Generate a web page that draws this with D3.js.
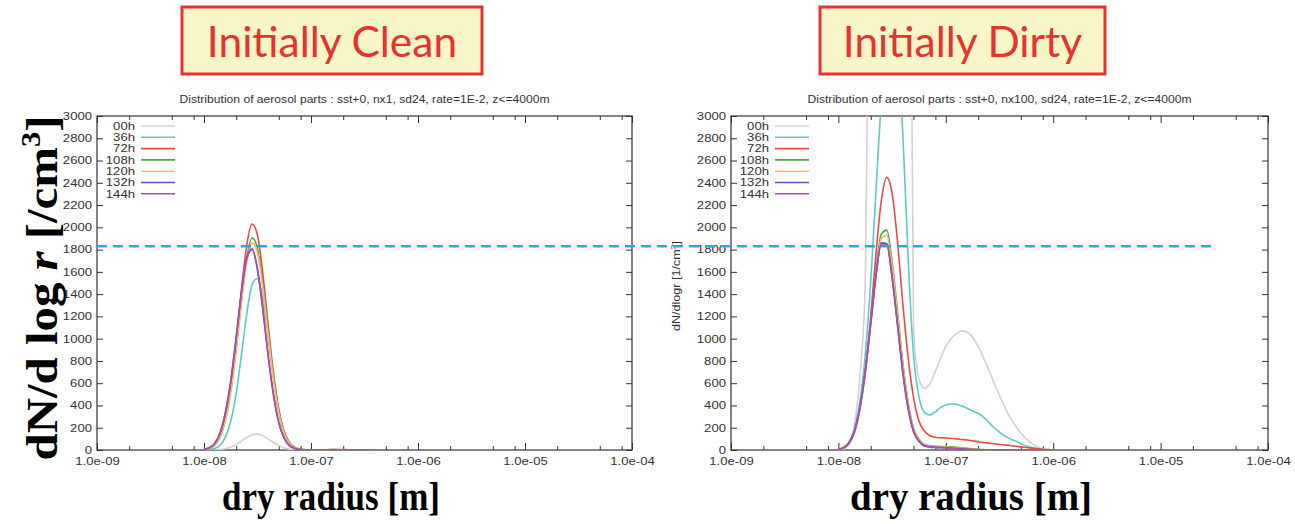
<!DOCTYPE html>
<html>
<head>
<meta charset="utf-8">
<script src="https://cdn.jsdelivr.net/npm/d3@7"></script>
<style>
  body { margin: 0; background: #fff; }
  svg { display: block; }
</style>
</head>
<body>
<svg id="chart" width="1295" height="524"></svg>
<script>
// ---- data ----
const seriesNames = ['00h', '36h', '72h', '108h', '120h', '132h', '144h'];

const yTicks = [0, 200, 400, 600, 800, 1000, 1200, 1400, 1600, 1800, 2000, 2200, 2400, 2600, 2800, 3000];
const xTicks = [1e-9, 1e-8, 1e-7, 1e-6, 1e-5, 1e-4];
const xTickLabels = ['1.0e-09', '1.0e-08', '1.0e-07', '1.0e-06', '1.0e-05', '1.0e-04'];
const minorMultipliers = [2, 5, 8];

const refLevel = 1830; // dashed blue line

// initially clean (nx1)
const cleanRadius = [1.00e-8, 1.12e-8, 1.26e-8, 1.41e-8, 1.58e-8, 1.78e-8, 2.00e-8, 2.24e-8, 2.51e-8,
  2.82e-8, 3.16e-8, 3.55e-8, 3.98e-8, 4.47e-8, 5.01e-8, 5.62e-8, 6.31e-8, 7.08e-8, 7.94e-8, 8.91e-8,
  1.00e-7, 1.26e-7, 1.58e-7, 2.00e-7, 2.51e-7, 3.16e-7, 3.98e-7];
const clean00 = [0, 1, 2, 5, 12, 26, 49, 80, 113, 136, 143, 129, 100, 67, 39, 19, 8, 3, 1, 0, 0, 0, 0, 0, 0, 0, 0];
const clean36 = [1, 4, 13, 42, 113, 261, 511, 857, 1222, 1487, 1540, 1359, 1022, 655, 358, 166, 66, 22, 6, 2, 1, 1, 2, 2, 1, 0, 0];
const clean72 = [4, 15, 46, 122, 283, 565, 971, 1440, 1840, 2030, 1930, 1582, 1119, 683, 359, 163, 64, 22, 6, 2, 1, 2, 3, 3, 2, 1, 0];
const clean108 = [4, 14, 43, 114, 265, 530, 911, 1351, 1726, 1904, 1810, 1484, 1050, 641, 337, 153, 60, 21, 6, 2, 1, 2, 3, 2, 1, 0, 0];
const clean120 = [4, 14, 42, 112, 259, 518, 889, 1319, 1685, 1860, 1768, 1449, 1025, 626, 329, 149, 59, 20, 5, 2, 1, 1, 2, 2, 1, 0, 0];
const clean132 = [6, 20, 59, 150, 330, 622, 1013, 1424, 1727, 1808, 1627, 1265, 849, 491, 245, 106, 39, 13, 3, 1, 1, 1, 1, 0, 0, 0, 0];
const clean144 = [6, 20, 59, 149, 328, 619, 1008, 1417, 1718, 1798, 1618, 1258, 844, 488, 243, 105, 39, 13, 3, 1, 1, 2, 1, 0, 0, 0, 0];

// initially dirty (nx100)
const dirtyRadius = [1.00e-8, 1.12e-8, 1.26e-8, 1.41e-8, 1.58e-8, 1.78e-8, 2.00e-8, 2.24e-8, 2.51e-8,
  2.82e-8, 3.16e-8, 3.55e-8, 3.98e-8, 4.47e-8, 5.01e-8, 5.62e-8, 6.31e-8, 7.08e-8, 7.94e-8, 8.91e-8,
  1.00e-7, 1.12e-7, 1.26e-7, 1.41e-7, 1.58e-7, 1.78e-7, 2.00e-7, 2.24e-7, 2.51e-7, 2.82e-7,
  3.16e-7, 3.55e-7, 3.98e-7, 4.47e-7, 5.01e-7, 5.62e-7, 6.31e-7, 7.08e-7, 7.94e-7, 8.91e-7, 1.00e-6];
const dirty00 = [0, 10, 60, 220, 650, 1500, 6000, 12000, 15000, 16000, 15000, 13000, 11000, 8000, 1100, 640, 555, 590,
  700, 820, 930, 1000, 1045, 1070, 1060, 1010, 930, 830, 720, 600, 490, 385, 290, 215, 150, 100, 60, 30, 10, 3, 0];
const dirty36 = [7, 24, 72, 188, 429, 860, 1513, 2332, 3152, 3740, 3895, 3550, 2838, 1700, 850, 480, 340, 315,
  340, 380, 405, 413, 410, 395, 375, 350, 330, 295, 250, 200, 160, 125, 100, 80, 55, 35, 22, 12, 5, 1, 0];
const dirty72 = [5, 19, 59, 157, 358, 707, 1203, 1768, 2239, 2449, 2307, 1875, 1315, 820, 470, 260, 170, 130,
  115, 110, 108, 105, 100, 95, 90, 82, 75, 68, 62, 56, 50, 45, 40, 33, 28, 22, 17, 12, 7, 3, 0];
const dirty108 = [5, 19, 61, 161, 365, 703, 1154, 1615, 1940, 1975, 1695, 1250, 786, 421, 193, 100, 50, 38,
  34, 32, 30, 28, 25, 20, 15, 10, 6, 3, 1, 0, 0, 0, 0, 0, 0, 0, 0, 0, 0, 0, 0];
const dirty120 = [5, 19, 59, 157, 356, 685, 1125, 1575, 1900, 1928, 1653, 1219, 766, 410, 188, 95, 46, 34,
  30, 28, 26, 23, 20, 16, 12, 8, 5, 2, 1, 0, 0, 0, 0, 0, 0, 0, 0, 0, 0, 0, 0];
const dirty132 = [6, 22, 66, 170, 375, 710, 1140, 1570, 1860, 1855, 1560, 1130, 700, 370, 168, 80, 38, 28,
  25, 22, 20, 17, 14, 10, 7, 4, 2, 1, 0, 0, 0, 0, 0, 0, 0, 0, 0, 0, 0, 0, 0];
const dirty144 = [6, 22, 66, 170, 374, 706, 1134, 1562, 1850, 1843, 1548, 1120, 692, 364, 165, 78, 36, 26,
  23, 21, 19, 16, 13, 9, 6, 4, 2, 1, 0, 0, 0, 0, 0, 0, 0, 0, 0, 0, 0, 0, 0];

const lineColors = ['#d2d2d2', '#5ccaca', '#ef4848', '#48ad3e', '#f7bd6c', '#5454c4', '#b04ab0'];

const panels = [
  {
    id: 'clean', left: 97, right: 632,
    heading: 'Initially Clean', box: [182, 7, 300, 67],
    title: 'Distribution of aerosol parts : sst+0, nx1, sd24, rate=1E-2, z<=4000m', titleLen: 370,
    radius: cleanRadius,
    values: [clean00, clean36, clean72, clean108, clean120, clean132, clean144]
  },
  {
    id: 'dirty', left: 731, right: 1268,
    heading: 'Initially Dirty', box: [820, 7, 285, 67],
    title: 'Distribution of aerosol parts : sst+0, nx100, sd24, rate=1E-2, z<=4000m', titleLen: 384,
    radius: dirtyRadius,
    values: [dirty00, dirty36, dirty72, dirty108, dirty120, dirty132, dirty144]
  }
];

const plotTop = 116, plotBottom = 450;
const stretch = 'scale(1.25,1)';
const gnuFont = '"Liberation Sans", Arial, sans-serif';
const svg = d3.select('#chart');

svg.append('rect').attr('width', 1295).attr('height', 524).attr('fill', '#fff');

function drawPanel(p) {
  const x = d3.scaleLog().domain([1e-9, 1e-4]).range([p.left, p.right]);
  const y = d3.scaleLinear().domain([0, 3000]).range([plotBottom, plotTop]);
  const g = svg.append('g').attr('class', 'panel-' + p.id);

  // heading box
  g.append('rect')
    .attr('x', p.box[0]).attr('y', p.box[1])
    .attr('width', p.box[2]).attr('height', p.box[3])
    .attr('fill', '#f8f6c9').attr('stroke', '#e6332e').attr('stroke-width', 3);
  g.append('text')
    .attr('x', p.box[0] + p.box[2] / 2).attr('y', 57)
    .attr('text-anchor', 'middle')
    .attr('font-family', 'Lato, "Open Sans", sans-serif')
    .attr('font-size', 42.5).attr('fill', '#e6332e')
    .text(p.heading);

  // small gnuplot title
  g.append('text')
    .attr('x', (p.left + p.right) / 2 - p.titleLen / 2).attr('y', 103)
    .attr('font-family', gnuFont)
    .attr('font-size', 11).attr('fill', '#333')
    .attr('textLength', p.titleLen).attr('lengthAdjust', 'spacingAndGlyphs')
    .text(p.title);

  // minor ticks
  const minors = [];
  for (let e = -9; e < -4; e++) minorMultipliers.forEach(m => minors.push(m * Math.pow(10, e)));

  const tickStyle = sel => {
    sel.select('.domain').remove();
    sel.selectAll('line').attr('stroke', '#333');
  };

  g.append('g').attr('transform', `translate(0,${plotBottom})`)
    .call(d3.axisBottom(x).tickValues(minors).tickSize(-4).tickFormat(''))
    .call(tickStyle);
  g.append('g').attr('transform', `translate(0,${plotTop})`)
    .call(d3.axisTop(x).tickValues(minors).tickSize(-4).tickFormat(''))
    .call(tickStyle);

  const xAxis = g.append('g').attr('transform', `translate(0,${plotBottom})`)
    .call(d3.axisBottom(x).tickValues(xTicks).tickSize(-7).tickPadding(8)
      .tickFormat((d, i) => xTickLabels[i]))
    .call(tickStyle);
  g.append('g').attr('transform', `translate(0,${plotTop})`)
    .call(d3.axisTop(x).tickValues(xTicks).tickSize(-7).tickFormat(''))
    .call(tickStyle);

  const yAxis = g.append('g').attr('transform', `translate(${p.left},0)`)
    .call(d3.axisLeft(y).tickValues(yTicks).tickSize(-6).tickPadding(4).tickFormat(d3.format('d')))
    .call(tickStyle);
  g.append('g').attr('transform', `translate(${p.right},0)`)
    .call(d3.axisRight(y).tickValues(yTicks).tickSize(-6).tickFormat(''))
    .call(tickStyle);

  [xAxis, yAxis].forEach(a => a.selectAll('text')
    .attr('font-family', gnuFont)
    .attr('font-size', 10.5).attr('fill', '#333')
    .attr('transform', stretch));

  // border
  g.append('rect')
    .attr('x', p.left).attr('y', plotTop)
    .attr('width', p.right - p.left).attr('height', plotBottom - plotTop)
    .attr('fill', 'none').attr('stroke', '#333').attr('stroke-width', 1.2);

  // curves
  g.append('clipPath').attr('id', 'clip-' + p.id)
    .append('rect').attr('x', p.left).attr('y', plotTop)
    .attr('width', p.right - p.left).attr('height', plotBottom - plotTop);

  const line = d3.line()
    .x((d, i) => x(p.radius[i]))
    .y(d => y(d))
    .curve(d3.curveMonotoneX);

  g.append('g').attr('clip-path', `url(#clip-${p.id})`)
    .selectAll('path')
    .data(p.values)
    .join('path')
    .attr('d', line)
    .attr('fill', 'none')
    .attr('stroke', (d, i) => lineColors[i])
    .attr('stroke-width', 1.6);

  // legend
  const key = g.append('g');
  seriesNames.forEach((name, i) => {
    const ky = 126 + i * 11.3;
    key.append('text')
      .attr('transform', `translate(${p.left + 38},${ky + 3.8}) ${stretch}`)
      .attr('text-anchor', 'end')
      .attr('font-family', gnuFont)
      .attr('font-size', 10.5).attr('fill', '#333')
      .text(name);
    key.append('line')
      .attr('x1', p.left + 44).attr('x2', p.left + 78)
      .attr('y1', ky).attr('y2', ky)
      .attr('stroke', lineColors[i]).attr('stroke-width', 1.6);
  });
}

panels.forEach(drawPanel);

// big axis labels (slide text)
const yLab = svg.append('text')
  .attr('transform', 'translate(57,288) rotate(-90)')
  .attr('text-anchor', 'middle')
  .attr('font-family', '"Liberation Serif", "Times New Roman", serif')
  .attr('font-weight', 'bold').attr('font-size', 45)
  .attr('textLength', 345).attr('lengthAdjust', 'spacingAndGlyphs');
yLab.append('tspan').text('dN/d log ');
yLab.append('tspan').attr('font-style', 'italic').text('r');
yLab.append('tspan').text(' [/cm');
yLab.append('tspan').attr('font-size', 28).attr('dy', -17).text('3');
yLab.append('tspan').attr('dy', 17).text(']');

[[331, 'dry radius [m]', 218], [971, 'dry radius [m]', 242]].forEach(([cx, t, len]) => {
  svg.append('text')
    .attr('x', cx).attr('y', 510)
    .attr('text-anchor', 'middle')
    .attr('font-family', '"Liberation Serif", "Times New Roman", serif')
    .attr('font-weight', 'bold').attr('font-size', 40)
    .attr('textLength', len).attr('lengthAdjust', 'spacingAndGlyphs')
    .text(t);
});

// small y label of the right gnuplot panel
const smallLab = svg.append('text')
  .attr('transform', 'translate(680,286) rotate(-90)')
  .attr('text-anchor', 'middle')
  .attr('font-family', gnuFont)
  .attr('font-size', 10).attr('fill', '#333')
  .attr('textLength', 90).attr('lengthAdjust', 'spacingAndGlyphs');
smallLab.append('tspan').text('dN/dlogr [1/cm');
smallLab.append('tspan').attr('font-size', 7).attr('dy', -4).text('3');
smallLab.append('tspan').attr('dy', 4).text(']');

// reference level across both panels
const yRef = d3.scaleLinear().domain([0, 3000]).range([plotBottom, plotTop]);
svg.append('line')
  .attr('x1', 97).attr('x2', 1213)
  .attr('y1', yRef(refLevel)).attr('y2', yRef(refLevel))
  .attr('stroke', '#27a9e6').attr('stroke-width', 2.5)
  .attr('stroke-dasharray', '10,6');
</script>
</body>
</html>
